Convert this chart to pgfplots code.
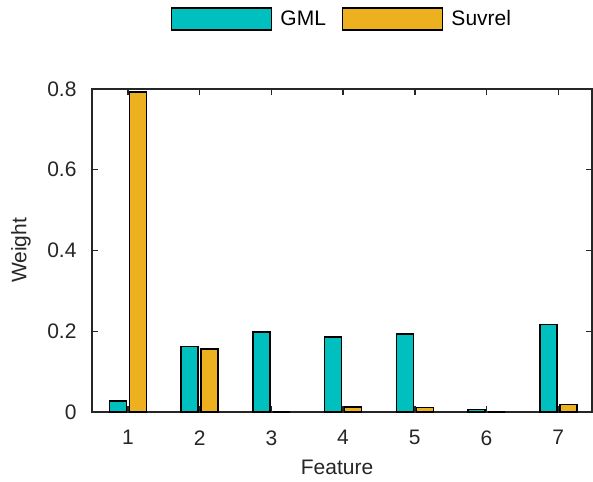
\documentclass[border=0pt]{standalone}
\usepackage{pgfplots}
\pgfplotsset{compat=1.18}
\usepackage{fontspec}
\setmainfont{Liberation Sans}
\definecolor{gml}{RGB}{0,191,191}
\definecolor{suv}{RGB}{237,177,32}
\definecolor{axgray}{RGB}{38,38,38}
\begin{document}
\begin{tikzpicture}
\begin{axis}[
  scale only axis, width=500pt, height=323pt,
  xmin=0.5, xmax=7.47, ymin=0, ymax=0.8,
  ybar, bar width=17pt,
  xtick={1,2,3,4,5,6,7},
  ytick={0,0.2,0.4,0.6,0.8},
  yticklabels={0,0.2,0.4,0.6,0.8},
  tick align=inside,
  major tick length=6pt,
  axis line style={axgray, line width=1.4pt},
  every tick/.style={axgray, line width=1.4pt},
  ticklabel style={text=axgray, font=\fontsize{21}{24}\selectfont},
  xticklabel style={yshift=-15pt},
  yticklabel style={xshift=-12pt},
  /pgf/number format/assume math mode=true,
  xlabel={Feature}, ylabel={Weight},
  label style={text=axgray, font=\fontsize{21}{24}\selectfont},
  xlabel style={at={(axis description cs:0.49,-0.193)}, anchor=base, text depth=0pt, inner sep=0pt},
  ylabel style={at={(axis description cs:-0.142,0.5)}, anchor=center},
  legend style={at={(axis description cs:0.5,1)}, anchor=center, yshift=70pt,
    draw=none, fill=none, legend columns=2, font=\fontsize{21}{24}\selectfont,
    text=black,
    /tikz/every odd column/.append style={column sep=6pt},
    /tikz/every even column/.append style={column sep=14pt}},
]
\addplot[fill=gml, draw=black, line width=1.5pt, bar shift=-10pt,
  legend image code/.code={\draw[fill=gml, draw=black, line width=1.5pt] (0pt,-11pt) rectangle (100pt,11pt);}]
  coordinates {(1,0.027) (2,0.162) (3,0.198) (4,0.186) (5,0.193) (6,0.006) (7,0.217)};
\addlegendentry{GML}
\addplot[fill=suv, draw=black, line width=1.5pt, bar shift=10pt,
  legend image code/.code={\draw[fill=suv, draw=black, line width=1.5pt] (0pt,-11pt) rectangle (100pt,11pt);}]
  coordinates {(1,0.793) (2,0.156) (3,0) (4,0.013) (5,0.011) (6,0) (7,0.018)};
\addlegendentry{Suvrel}
\coordinate (sw) at (rel axis cs:0,0);
\end{axis}
\pgfresetboundingbox
\path[use as bounding box] (sw) ++(-92pt,-69pt) rectangle ++(593pt,481pt);
\end{tikzpicture}
\end{document}
